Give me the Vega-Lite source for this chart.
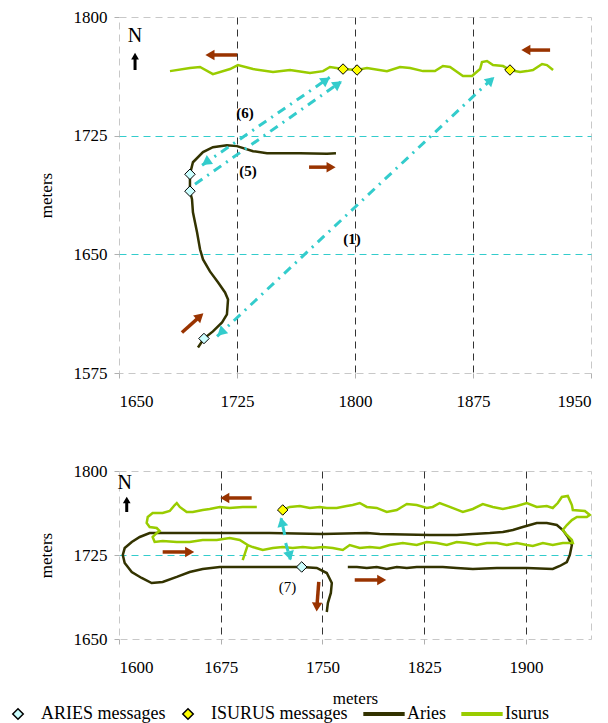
{
"$schema": "https://vega.github.io/schema/vega-lite/v6.json",
"background": "white",
"padding": {"left": 9, "top": 7, "right": 5, "bottom": 0},
"spacing": 51,
"config": {
  "view": {"stroke": "#c8c8c8", "strokeDash": [7, 5]},
  "font": "Liberation Serif",
  "style": {"guide-label": {"font": "Liberation Serif", "fontSize": 17, "fill": "black"}, "guide-title": {"font": "Liberation Serif", "fontSize": 17, "fontWeight": "normal", "fill": "black"}},
  "axis": {"labelFont": "Liberation Serif", "labelFontSize": 17, "labelColor": "black", "titleFont": "Liberation Serif", "titleFontSize": 17, "titleFontWeight": "normal", "titleColor": "black", "domain": false, "tickColor": "#b0b0b0", "tickSize": 5, "gridDash": [7, 5], "gridWidth": 1},
  "legend": {"labelFont": "Liberation Serif", "labelFontSize": 18, "labelColor": "black", "labelLimit": 300, "symbolSize": 110}
},
"datasets": {
  "tracks": [
    {"panel":"top","vehicle":"Aries","order":1,"x":1700.2,"y":1591.1},
    {"panel":"top","vehicle":"Aries","order":2,"x":1704.0,"y":1596.8},
    {"panel":"top","vehicle":"Aries","order":3,"x":1709.7,"y":1601.3},
    {"panel":"top","vehicle":"Aries","order":4,"x":1715.5,"y":1607.0},
    {"panel":"top","vehicle":"Aries","order":5,"x":1718.6,"y":1612.0},
    {"panel":"top","vehicle":"Aries","order":6,"x":1719.3,"y":1621.5},
    {"panel":"top","vehicle":"Aries","order":7,"x":1717.4,"y":1625.9},
    {"panel":"top","vehicle":"Aries","order":8,"x":1712.9,"y":1632.3},
    {"panel":"top","vehicle":"Aries","order":9,"x":1707.8,"y":1639.2},
    {"panel":"top","vehicle":"Aries","order":10,"x":1703.4,"y":1646.8},
    {"panel":"top","vehicle":"Aries","order":11,"x":1701.5,"y":1653.2},
    {"panel":"top","vehicle":"Aries","order":12,"x":1699.6,"y":1663.9},
    {"panel":"top","vehicle":"Aries","order":13,"x":1697.0,"y":1676.6},
    {"panel":"top","vehicle":"Aries","order":14,"x":1696.4,"y":1684.8},
    {"panel":"top","vehicle":"Aries","order":15,"x":1695.1,"y":1689.9},
    {"panel":"top","vehicle":"Aries","order":16,"x":1695.1,"y":1700.6},
    {"panel":"top","vehicle":"Aries","order":17,"x":1697.0,"y":1708.2},
    {"panel":"top","vehicle":"Aries","order":18,"x":1703.4,"y":1714.6},
    {"panel":"top","vehicle":"Aries","order":19,"x":1709.7,"y":1717.7},
    {"panel":"top","vehicle":"Aries","order":20,"x":1718.6,"y":1719.0},
    {"panel":"top","vehicle":"Aries","order":21,"x":1725.0,"y":1718.4},
    {"panel":"top","vehicle":"Aries","order":22,"x":1735.2,"y":1715.2},
    {"panel":"top","vehicle":"Aries","order":23,"x":1744.1,"y":1713.9},
    {"panel":"top","vehicle":"Aries","order":24,"x":1765.0,"y":1713.9},
    {"panel":"top","vehicle":"Aries","order":25,"x":1782.2,"y":1713.6},
    {"panel":"top","vehicle":"Aries","order":26,"x":1787.9,"y":1713.9},
    {"panel":"top","vehicle":"Isurus","order":1,"x":1682.4,"y":1765.8},
    {"panel":"top","vehicle":"Isurus","order":2,"x":1695.1,"y":1767.7},
    {"panel":"top","vehicle":"Isurus","order":3,"x":1701.5,"y":1768.4},
    {"panel":"top","vehicle":"Isurus","order":4,"x":1709.7,"y":1763.9},
    {"panel":"top","vehicle":"Isurus","order":5,"x":1720.6,"y":1767.1},
    {"panel":"top","vehicle":"Isurus","order":6,"x":1725.6,"y":1769.6},
    {"panel":"top","vehicle":"Isurus","order":7,"x":1735.2,"y":1767.1},
    {"panel":"top","vehicle":"Isurus","order":8,"x":1747.9,"y":1765.2},
    {"panel":"top","vehicle":"Isurus","order":9,"x":1758.7,"y":1766.5},
    {"panel":"top","vehicle":"Isurus","order":10,"x":1771.4,"y":1764.6},
    {"panel":"top","vehicle":"Isurus","order":11,"x":1779.7,"y":1765.8},
    {"panel":"top","vehicle":"Isurus","order":12,"x":1784.1,"y":1768.4},
    {"panel":"top","vehicle":"Isurus","order":13,"x":1792.4,"y":1767.1},
    {"panel":"top","vehicle":"Isurus","order":14,"x":1801.3,"y":1766.5},
    {"panel":"top","vehicle":"Isurus","order":15,"x":1807.6,"y":1767.7},
    {"panel":"top","vehicle":"Isurus","order":16,"x":1820.3,"y":1765.8},
    {"panel":"top","vehicle":"Isurus","order":17,"x":1828.6,"y":1768.4},
    {"panel":"top","vehicle":"Isurus","order":18,"x":1835.0,"y":1767.7},
    {"panel":"top","vehicle":"Isurus","order":19,"x":1843.2,"y":1765.8},
    {"panel":"top","vehicle":"Isurus","order":20,"x":1850.8,"y":1765.8},
    {"panel":"top","vehicle":"Isurus","order":21,"x":1855.9,"y":1769.0},
    {"panel":"top","vehicle":"Isurus","order":22,"x":1860.4,"y":1768.4},
    {"panel":"top","vehicle":"Isurus","order":23,"x":1868.6,"y":1762.7},
    {"panel":"top","vehicle":"Isurus","order":24,"x":1874.4,"y":1762.7},
    {"panel":"top","vehicle":"Isurus","order":25,"x":1879.5,"y":1767.1},
    {"panel":"top","vehicle":"Isurus","order":26,"x":1880.7,"y":1771.5},
    {"panel":"top","vehicle":"Isurus","order":27,"x":1883.9,"y":1772.2},
    {"panel":"top","vehicle":"Isurus","order":28,"x":1887.7,"y":1769.6},
    {"panel":"top","vehicle":"Isurus","order":29,"x":1894.1,"y":1769.0},
    {"panel":"top","vehicle":"Isurus","order":30,"x":1898.5,"y":1766.5},
    {"panel":"top","vehicle":"Isurus","order":31,"x":1904.9,"y":1765.2},
    {"panel":"top","vehicle":"Isurus","order":32,"x":1909.3,"y":1765.8},
    {"panel":"top","vehicle":"Isurus","order":33,"x":1913.1,"y":1766.5},
    {"panel":"top","vehicle":"Isurus","order":34,"x":1918.9,"y":1770.3},
    {"panel":"top","vehicle":"Isurus","order":35,"x":1922.0,"y":1769.6},
    {"panel":"top","vehicle":"Isurus","order":36,"x":1925.9,"y":1766.5},
    {"panel":"bottom","vehicle":"Aries","order":1,"x":1768.7,"y":1714.3},
    {"panel":"bottom","vehicle":"Aries","order":2,"x":1775.4,"y":1714.3},
    {"panel":"bottom","vehicle":"Aries","order":3,"x":1782.7,"y":1713.4},
    {"panel":"bottom","vehicle":"Aries","order":4,"x":1790.0,"y":1714.3},
    {"panel":"bottom","vehicle":"Aries","order":5,"x":1797.4,"y":1712.5},
    {"panel":"bottom","vehicle":"Aries","order":6,"x":1804.8,"y":1714.3},
    {"panel":"bottom","vehicle":"Aries","order":7,"x":1812.2,"y":1713.4},
    {"panel":"bottom","vehicle":"Aries","order":8,"x":1819.5,"y":1714.3},
    {"panel":"bottom","vehicle":"Aries","order":9,"x":1829.1,"y":1714.3},
    {"panel":"bottom","vehicle":"Aries","order":10,"x":1838.7,"y":1714.3},
    {"panel":"bottom","vehicle":"Aries","order":11,"x":1849.0,"y":1713.4},
    {"panel":"bottom","vehicle":"Aries","order":12,"x":1860.9,"y":1712.5},
    {"panel":"bottom","vehicle":"Aries","order":13,"x":1878.6,"y":1713.4},
    {"panel":"bottom","vehicle":"Aries","order":14,"x":1900.7,"y":1713.4},
    {"panel":"bottom","vehicle":"Aries","order":15,"x":1919.8,"y":1712.5},
    {"panel":"bottom","vehicle":"Aries","order":16,"x":1925.0,"y":1715.2},
    {"panel":"bottom","vehicle":"Aries","order":17,"x":1930.2,"y":1718.7},
    {"panel":"bottom","vehicle":"Aries","order":18,"x":1932.4,"y":1725.0},
    {"panel":"bottom","vehicle":"Aries","order":19,"x":1933.9,"y":1733.9},
    {"panel":"bottom","vehicle":"Aries","order":20,"x":1930.9,"y":1741.1},
    {"panel":"bottom","vehicle":"Aries","order":21,"x":1927.2,"y":1747.3},
    {"panel":"bottom","vehicle":"Aries","order":22,"x":1922.8,"y":1751.8},
    {"panel":"bottom","vehicle":"Aries","order":23,"x":1915.4,"y":1753.6},
    {"panel":"bottom","vehicle":"Aries","order":24,"x":1908.0,"y":1753.6},
    {"panel":"bottom","vehicle":"Aries","order":25,"x":1902.9,"y":1751.8},
    {"panel":"bottom","vehicle":"Aries","order":26,"x":1897.7,"y":1750.0},
    {"panel":"bottom","vehicle":"Aries","order":27,"x":1890.4,"y":1747.3},
    {"panel":"bottom","vehicle":"Aries","order":28,"x":1883.0,"y":1745.5},
    {"panel":"bottom","vehicle":"Aries","order":29,"x":1873.4,"y":1744.6},
    {"panel":"bottom","vehicle":"Aries","order":30,"x":1860.9,"y":1743.8},
    {"panel":"bottom","vehicle":"Aries","order":31,"x":1849.0,"y":1742.9},
    {"panel":"bottom","vehicle":"Aries","order":32,"x":1829.1,"y":1742.9},
    {"panel":"bottom","vehicle":"Aries","order":33,"x":1792.3,"y":1743.8},
    {"panel":"bottom","vehicle":"Aries","order":34,"x":1782.7,"y":1744.6},
    {"panel":"bottom","vehicle":"Aries","order":35,"x":1750.2,"y":1743.8},
    {"panel":"bottom","vehicle":"Aries","order":36,"x":1711.1,"y":1744.6},
    {"panel":"bottom","vehicle":"Aries","order":37,"x":1674.3,"y":1744.6},
    {"panel":"bottom","vehicle":"Aries","order":38,"x":1642.6,"y":1744.6},
    {"panel":"bottom","vehicle":"Aries","order":39,"x":1628.5,"y":1744.6},
    {"panel":"bottom","vehicle":"Aries","order":40,"x":1622.6,"y":1744.6},
    {"panel":"bottom","vehicle":"Aries","order":41,"x":1615.3,"y":1741.1},
    {"panel":"bottom","vehicle":"Aries","order":42,"x":1609.4,"y":1736.6},
    {"panel":"bottom","vehicle":"Aries","order":43,"x":1604.2,"y":1731.2},
    {"panel":"bottom","vehicle":"Aries","order":44,"x":1602.8,"y":1725.0},
    {"panel":"bottom","vehicle":"Aries","order":45,"x":1604.2,"y":1717.9},
    {"panel":"bottom","vehicle":"Aries","order":46,"x":1609.4,"y":1709.8},
    {"panel":"bottom","vehicle":"Aries","order":47,"x":1616.7,"y":1704.5},
    {"panel":"bottom","vehicle":"Aries","order":48,"x":1624.1,"y":1700.0},
    {"panel":"bottom","vehicle":"Aries","order":49,"x":1632.2,"y":1700.9},
    {"panel":"bottom","vehicle":"Aries","order":50,"x":1642.6,"y":1705.4},
    {"panel":"bottom","vehicle":"Aries","order":51,"x":1652.1,"y":1709.8},
    {"panel":"bottom","vehicle":"Aries","order":52,"x":1661.7,"y":1712.5},
    {"panel":"bottom","vehicle":"Aries","order":53,"x":1674.3,"y":1714.3},
    {"panel":"bottom","vehicle":"Aries","order":54,"x":1691.2,"y":1714.3},
    {"panel":"bottom","vehicle":"Aries","order":55,"x":1711.1,"y":1714.3},
    {"panel":"bottom","vehicle":"Aries","order":56,"x":1725.9,"y":1714.3},
    {"panel":"bottom","vehicle":"Aries","order":57,"x":1734.7,"y":1714.3},
    {"panel":"bottom","vehicle":"Aries","order":58,"x":1745.8,"y":1713.4},
    {"panel":"bottom","vehicle":"Aries","order":59,"x":1753.2,"y":1708.9},
    {"panel":"bottom","vehicle":"Aries","order":60,"x":1756.9,"y":1700.0},
    {"panel":"bottom","vehicle":"Aries","order":61,"x":1756.2,"y":1691.1},
    {"panel":"bottom","vehicle":"Aries","order":62,"x":1754.0,"y":1682.1},
    {"panel":"bottom","vehicle":"Aries","order":63,"x":1753.2,"y":1674.1},
    {"panel":"bottom","vehicle":"Isurus","order":1,"x":1701.6,"y":1767.9},
    {"panel":"bottom","vehicle":"Isurus","order":2,"x":1691.2,"y":1767.9},
    {"panel":"bottom","vehicle":"Isurus","order":3,"x":1681.6,"y":1767.0},
    {"panel":"bottom","vehicle":"Isurus","order":4,"x":1674.3,"y":1767.9},
    {"panel":"bottom","vehicle":"Isurus","order":5,"x":1666.9,"y":1766.1},
    {"panel":"bottom","vehicle":"Isurus","order":6,"x":1661.7,"y":1765.2},
    {"panel":"bottom","vehicle":"Isurus","order":7,"x":1654.4,"y":1763.4},
    {"panel":"bottom","vehicle":"Isurus","order":8,"x":1649.9,"y":1763.4},
    {"panel":"bottom","vehicle":"Isurus","order":9,"x":1644.8,"y":1767.9},
    {"panel":"bottom","vehicle":"Isurus","order":10,"x":1642.6,"y":1771.4},
    {"panel":"bottom","vehicle":"Isurus","order":11,"x":1641.1,"y":1769.6},
    {"panel":"bottom","vehicle":"Isurus","order":12,"x":1637.4,"y":1764.3},
    {"panel":"bottom","vehicle":"Isurus","order":13,"x":1632.2,"y":1762.5},
    {"panel":"bottom","vehicle":"Isurus","order":14,"x":1624.8,"y":1762.5},
    {"panel":"bottom","vehicle":"Isurus","order":15,"x":1621.2,"y":1758.9},
    {"panel":"bottom","vehicle":"Isurus","order":16,"x":1620.4,"y":1753.6},
    {"panel":"bottom","vehicle":"Isurus","order":17,"x":1622.6,"y":1750.0},
    {"panel":"bottom","vehicle":"Isurus","order":18,"x":1627.8,"y":1749.1},
    {"panel":"bottom","vehicle":"Isurus","order":19,"x":1630.0,"y":1746.4},
    {"panel":"bottom","vehicle":"Isurus","order":20,"x":1627.8,"y":1744.6},
    {"panel":"bottom","vehicle":"Isurus","order":21,"x":1624.8,"y":1741.1},
    {"panel":"bottom","vehicle":"Isurus","order":22,"x":1626.3,"y":1736.6},
    {"panel":"bottom","vehicle":"Isurus","order":23,"x":1632.2,"y":1737.5},
    {"panel":"bottom","vehicle":"Isurus","order":24,"x":1642.6,"y":1736.6},
    {"panel":"bottom","vehicle":"Isurus","order":25,"x":1652.1,"y":1736.6},
    {"panel":"bottom","vehicle":"Isurus","order":26,"x":1661.7,"y":1738.4},
    {"panel":"bottom","vehicle":"Isurus","order":27,"x":1672.1,"y":1738.4},
    {"panel":"bottom","vehicle":"Isurus","order":28,"x":1681.6,"y":1740.2},
    {"panel":"bottom","vehicle":"Isurus","order":29,"x":1689.0,"y":1738.4},
    {"panel":"bottom","vehicle":"Isurus","order":30,"x":1694.9,"y":1733.9},
    {"panel":"bottom","vehicle":"Isurus","order":31,"x":1691.2,"y":1720.5},
    {"panel":"bottom","vehicle":"Isurus","order":32,"x":1694.9,"y":1733.9},
    {"panel":"bottom","vehicle":"Isurus","order":33,"x":1698.6,"y":1732.1},
    {"panel":"bottom","vehicle":"Isurus","order":34,"x":1706.0,"y":1729.5},
    {"panel":"bottom","vehicle":"Isurus","order":35,"x":1713.4,"y":1731.2},
    {"panel":"bottom","vehicle":"Isurus","order":36,"x":1720.7,"y":1732.1},
    {"panel":"bottom","vehicle":"Isurus","order":37,"x":1728.1,"y":1731.2},
    {"panel":"bottom","vehicle":"Isurus","order":38,"x":1735.5,"y":1732.1},
    {"panel":"bottom","vehicle":"Isurus","order":39,"x":1742.9,"y":1731.2},
    {"panel":"bottom","vehicle":"Isurus","order":40,"x":1750.2,"y":1732.1},
    {"panel":"bottom","vehicle":"Isurus","order":41,"x":1757.6,"y":1731.2},
    {"panel":"bottom","vehicle":"Isurus","order":42,"x":1765.0,"y":1729.5},
    {"panel":"bottom","vehicle":"Isurus","order":43,"x":1770.1,"y":1733.9},
    {"panel":"bottom","vehicle":"Isurus","order":44,"x":1777.5,"y":1731.2},
    {"panel":"bottom","vehicle":"Isurus","order":45,"x":1784.9,"y":1732.1},
    {"panel":"bottom","vehicle":"Isurus","order":46,"x":1792.3,"y":1731.2},
    {"panel":"bottom","vehicle":"Isurus","order":47,"x":1799.6,"y":1733.9},
    {"panel":"bottom","vehicle":"Isurus","order":48,"x":1809.2,"y":1735.7},
    {"panel":"bottom","vehicle":"Isurus","order":49,"x":1819.5,"y":1733.9},
    {"panel":"bottom","vehicle":"Isurus","order":50,"x":1826.9,"y":1736.6},
    {"panel":"bottom","vehicle":"Isurus","order":51,"x":1834.3,"y":1735.7},
    {"panel":"bottom","vehicle":"Isurus","order":52,"x":1841.7,"y":1733.9},
    {"panel":"bottom","vehicle":"Isurus","order":53,"x":1849.0,"y":1736.6},
    {"panel":"bottom","vehicle":"Isurus","order":54,"x":1856.4,"y":1735.7},
    {"panel":"bottom","vehicle":"Isurus","order":55,"x":1863.8,"y":1733.9},
    {"panel":"bottom","vehicle":"Isurus","order":56,"x":1871.2,"y":1735.7},
    {"panel":"bottom","vehicle":"Isurus","order":57,"x":1878.6,"y":1735.7},
    {"panel":"bottom","vehicle":"Isurus","order":58,"x":1885.9,"y":1733.9},
    {"panel":"bottom","vehicle":"Isurus","order":59,"x":1893.3,"y":1735.7},
    {"panel":"bottom","vehicle":"Isurus","order":60,"x":1900.7,"y":1733.9},
    {"panel":"bottom","vehicle":"Isurus","order":61,"x":1905.1,"y":1733.0},
    {"panel":"bottom","vehicle":"Isurus","order":62,"x":1912.5,"y":1735.7},
    {"panel":"bottom","vehicle":"Isurus","order":63,"x":1919.8,"y":1733.9},
    {"panel":"bottom","vehicle":"Isurus","order":64,"x":1927.2,"y":1735.7},
    {"panel":"bottom","vehicle":"Isurus","order":65,"x":1934.6,"y":1735.7},
    {"panel":"bottom","vehicle":"Isurus","order":66,"x":1933.9,"y":1738.4},
    {"panel":"bottom","vehicle":"Isurus","order":67,"x":1930.2,"y":1742.9},
    {"panel":"bottom","vehicle":"Isurus","order":68,"x":1927.2,"y":1747.3},
    {"panel":"bottom","vehicle":"Isurus","order":69,"x":1930.2,"y":1751.8},
    {"panel":"bottom","vehicle":"Isurus","order":70,"x":1933.9,"y":1756.2},
    {"panel":"bottom","vehicle":"Isurus","order":71,"x":1937.6,"y":1758.9},
    {"panel":"bottom","vehicle":"Isurus","order":72,"x":1944.9,"y":1758.9},
    {"panel":"bottom","vehicle":"Isurus","order":73,"x":1947.1,"y":1760.7},
    {"panel":"bottom","vehicle":"Isurus","order":74,"x":1943.5,"y":1764.3},
    {"panel":"bottom","vehicle":"Isurus","order":75,"x":1934.6,"y":1765.2},
    {"panel":"bottom","vehicle":"Isurus","order":76,"x":1933.9,"y":1769.6},
    {"panel":"bottom","vehicle":"Isurus","order":77,"x":1930.9,"y":1777.7},
    {"panel":"bottom","vehicle":"Isurus","order":78,"x":1926.5,"y":1776.8},
    {"panel":"bottom","vehicle":"Isurus","order":79,"x":1923.5,"y":1771.4},
    {"panel":"bottom","vehicle":"Isurus","order":80,"x":1919.8,"y":1767.0},
    {"panel":"bottom","vehicle":"Isurus","order":81,"x":1915.4,"y":1768.7},
    {"panel":"bottom","vehicle":"Isurus","order":82,"x":1908.0,"y":1767.9},
    {"panel":"bottom","vehicle":"Isurus","order":83,"x":1900.7,"y":1771.4},
    {"panel":"bottom","vehicle":"Isurus","order":84,"x":1893.3,"y":1768.7},
    {"panel":"bottom","vehicle":"Isurus","order":85,"x":1883.0,"y":1766.1},
    {"panel":"bottom","vehicle":"Isurus","order":86,"x":1875.6,"y":1767.9},
    {"panel":"bottom","vehicle":"Isurus","order":87,"x":1868.2,"y":1770.5},
    {"panel":"bottom","vehicle":"Isurus","order":88,"x":1860.9,"y":1766.1},
    {"panel":"bottom","vehicle":"Isurus","order":89,"x":1853.5,"y":1763.4},
    {"panel":"bottom","vehicle":"Isurus","order":90,"x":1843.9,"y":1767.9},
    {"panel":"bottom","vehicle":"Isurus","order":91,"x":1836.5,"y":1771.4},
    {"panel":"bottom","vehicle":"Isurus","order":92,"x":1831.3,"y":1767.9},
    {"panel":"bottom","vehicle":"Isurus","order":93,"x":1826.9,"y":1767.0},
    {"panel":"bottom","vehicle":"Isurus","order":94,"x":1819.5,"y":1769.6},
    {"panel":"bottom","vehicle":"Isurus","order":95,"x":1812.2,"y":1770.5},
    {"panel":"bottom","vehicle":"Isurus","order":96,"x":1804.8,"y":1765.2},
    {"panel":"bottom","vehicle":"Isurus","order":97,"x":1797.4,"y":1763.4},
    {"panel":"bottom","vehicle":"Isurus","order":98,"x":1790.0,"y":1767.0},
    {"panel":"bottom","vehicle":"Isurus","order":99,"x":1782.7,"y":1767.9},
    {"panel":"bottom","vehicle":"Isurus","order":100,"x":1777.5,"y":1771.4},
    {"panel":"bottom","vehicle":"Isurus","order":101,"x":1772.3,"y":1769.6},
    {"panel":"bottom","vehicle":"Isurus","order":102,"x":1767.9,"y":1768.7},
    {"panel":"bottom","vehicle":"Isurus","order":103,"x":1760.5,"y":1767.0},
    {"panel":"bottom","vehicle":"Isurus","order":104,"x":1753.2,"y":1767.0},
    {"panel":"bottom","vehicle":"Isurus","order":105,"x":1748.1,"y":1767.9},
    {"panel":"bottom","vehicle":"Isurus","order":106,"x":1740.7,"y":1767.0},
    {"panel":"bottom","vehicle":"Isurus","order":107,"x":1733.3,"y":1768.7},
    {"panel":"bottom","vehicle":"Isurus","order":108,"x":1725.9,"y":1767.9},
    {"panel":"bottom","vehicle":"Isurus","order":109,"x":1720.7,"y":1765.2}
  ],
  "messages": [
    {"panel":"top","series":"ARIES messages","x":1704.0,"y":1596.8},
    {"panel":"top","series":"ARIES messages","x":1695.1,"y":1689.9},
    {"panel":"top","series":"ARIES messages","x":1695.1,"y":1700.6},
    {"panel":"top","series":"ISURUS messages","x":1792.4,"y":1767.1},
    {"panel":"top","series":"ISURUS messages","x":1801.3,"y":1766.5},
    {"panel":"top","series":"ISURUS messages","x":1898.5,"y":1766.5},
    {"panel":"bottom","series":"ARIES messages","x":1734.7,"y":1714.3},
    {"panel":"bottom","series":"ISURUS messages","x":1720.7,"y":1765.2}
  ],
  "links": [
    {"panel":"top","link":"1","order":1,"x":1712.3,"y":1598.1},
    {"panel":"top","link":"1","order":2,"x":1889.0,"y":1762.7},
    {"panel":"top","link":"6","order":1,"x":1702.8,"y":1706.3},
    {"panel":"top","link":"6","order":2,"x":1784.1,"y":1762.0},
    {"panel":"top","link":"5","order":1,"x":1698.3,"y":1694.3},
    {"panel":"top","link":"5","order":2,"x":1791.7,"y":1759.5},
    {"panel":"bottom","link":"7a","order":1,"x":1722.2,"y":1742.9},
    {"panel":"bottom","link":"7a","order":2,"x":1719.3,"y":1758.9},
    {"panel":"bottom","link":"7b","order":1,"x":1722.9,"y":1735.7},
    {"panel":"bottom","link":"7b","order":2,"x":1726.6,"y":1719.6}
  ],
  "motion": [
    {"panel":"top","arrow":"m1","order":1,"x":1725.0,"y":1776.0},
    {"panel":"top","arrow":"m1","order":2,"x":1707.8,"y":1776.0},
    {"panel":"top","arrow":"m2","order":1,"x":1924.0,"y":1779.1},
    {"panel":"top","arrow":"m2","order":2,"x":1908.6,"y":1779.1},
    {"panel":"top","arrow":"m3","order":1,"x":1770.8,"y":1705.1},
    {"panel":"top","arrow":"m3","order":2,"x":1784.8,"y":1705.1},
    {"panel":"top","arrow":"m4","order":1,"x":1690.0,"y":1600.6},
    {"panel":"top","arrow":"m4","order":2,"x":1701.5,"y":1610.8},
    {"panel":"bottom","arrow":"m5","order":1,"x":1697.8,"y":1775.9},
    {"panel":"bottom","arrow":"m5","order":2,"x":1678.0,"y":1775.9},
    {"panel":"bottom","arrow":"m6","order":1,"x":1632.2,"y":1727.7},
    {"panel":"bottom","arrow":"m6","order":2,"x":1652.1,"y":1727.7},
    {"panel":"bottom","arrow":"m7","order":1,"x":1773.8,"y":1702.7},
    {"panel":"bottom","arrow":"m7","order":2,"x":1793.7,"y":1702.7},
    {"panel":"bottom","arrow":"m8","order":1,"x":1747.3,"y":1700.9},
    {"panel":"bottom","arrow":"m8","order":2,"x":1745.9,"y":1678.6}
  ],
  "north": [
    {"panel":"top","order":1,"x":1660.2,"y":1766.5},
    {"panel":"top","order":2,"x":1660.2,"y":1775.3},
    {"panel":"bottom","order":1,"x":1605.7,"y":1763.4},
    {"panel":"bottom","order":2,"x":1605.7,"y":1774.1}
  ],
  "heads": [
    {"panel":"top","kind":"link","x":1714.8,"y":1600.6,"heading":227},
    {"panel":"top","kind":"link","x":1886.4,"y":1760.1,"heading":47},
    {"panel":"top","kind":"link","x":1705.3,"y":1708.2,"heading":235},
    {"panel":"top","kind":"link","x":1781.6,"y":1760.1,"heading":55},
    {"panel":"top","kind":"link","x":1789.2,"y":1757.6,"heading":55},
    {"panel":"bottom","kind":"link","x":1720.0,"y":1754.5,"heading":347},
    {"panel":"bottom","kind":"link","x":1725.9,"y":1724.1,"heading":165},
    {"panel":"top","kind":"motion","x":1707.8,"y":1776.0,"heading":270},
    {"panel":"top","kind":"motion","x":1908.6,"y":1779.1,"heading":270},
    {"panel":"top","kind":"motion","x":1784.8,"y":1705.1,"heading":90},
    {"panel":"top","kind":"motion","x":1701.5,"y":1610.8,"heading":48},
    {"panel":"bottom","kind":"motion","x":1678.0,"y":1775.9,"heading":270},
    {"panel":"bottom","kind":"motion","x":1652.1,"y":1727.7,"heading":90},
    {"panel":"bottom","kind":"motion","x":1793.7,"y":1702.7,"heading":90},
    {"panel":"bottom","kind":"motion","x":1745.9,"y":1678.6,"heading":183},
    {"panel":"top","kind":"north","x":1660.2,"y":1775.3,"heading":0},
    {"panel":"bottom","kind":"north","x":1605.7,"y":1774.1,"heading":0}
  ],
  "labels": [
    {"panel":"top","kind":"N","text":"N","x":1660.2,"y":1788.0},
    {"panel":"bottom","kind":"N","text":"N","x":1604.3,"y":1789.3},
    {"panel":"top","kind":"link","text":"(6)","x":1730.1,"y":1739.2},
    {"panel":"top","kind":"link","text":"(5)","x":1732.0,"y":1702.5},
    {"panel":"top","kind":"link","text":"(1)","x":1798.1,"y":1659.5},
    {"panel":"bottom","kind":"link7","text":"(7)","x":1724.2,"y":1696.4}
  ]
},
"vconcat": [
  {
    "width": 472, "height": 356,
    "encoding": {
      "x": {"field": "x", "type": "quantitative", "scale": {"domain": [1650, 1950], "nice": false, "zero": false},
        "axis": {"values": [1650, 1725, 1800, 1875, 1950], "format": "d", "title": null, "grid": true, "labelPadding": 15,
          "labelFont": "Liberation Serif", "labelFontSize": 17,
          "gridColor": {"condition": {"test": "datum.value > 1650 && datum.value < 1950", "value": "#333333"}, "value": "transparent"}}},
      "y": {"field": "y", "type": "quantitative", "scale": {"domain": [1575, 1800], "nice": false, "zero": false},
        "axis": {"values": [1575, 1650, 1725, 1800], "format": "d", "title": "meters", "grid": true, "labelPadding": 7, "titlePadding": 18,
          "labelFont": "Liberation Serif", "labelFontSize": 17, "titleFont": "Liberation Serif", "titleFontSize": 17, "titleFontWeight": "normal",
          "gridColor": {"condition": {"test": "datum.value == 1650 || datum.value == 1725", "value": "#33cccc"}, "value": "transparent"}}}
    },
    "layer": [
      {"data": {"name": "tracks"}, "transform": [{"filter": "datum.panel === 'top' && datum.vehicle === 'Isurus'"}],
       "mark": {"type": "line", "color": "#99cc00", "strokeWidth": 2.5}, "encoding": {"order": {"field": "order", "type": "quantitative"}}},
      {"data": {"name": "tracks"}, "transform": [{"filter": "datum.panel === 'top' && datum.vehicle === 'Aries'"}],
       "mark": {"type": "line", "color": "#333300", "strokeWidth": 2.5}, "encoding": {"order": {"field": "order", "type": "quantitative"}}},
      {"data": {"name": "links"}, "transform": [{"filter": "datum.panel === 'top'"}],
       "mark": {"type": "line", "color": "#33cccc", "strokeWidth": 3, "strokeDash": [9, 6, 2, 6]},
       "encoding": {"detail": {"field": "link"}, "order": {"field": "order", "type": "quantitative"}}},
      {"data": {"name": "motion"}, "transform": [{"filter": "datum.panel === 'top'"}],
       "mark": {"type": "line", "color": "#993300", "strokeWidth": 3.5},
       "encoding": {"detail": {"field": "arrow"}, "order": {"field": "order", "type": "quantitative"}}},
      {"data": {"name": "north"}, "transform": [{"filter": "datum.panel === 'top'"}],
       "mark": {"type": "line", "color": "black", "strokeWidth": 3},
       "encoding": {"order": {"field": "order", "type": "quantitative"}}},
      {"data": {"name": "heads"}, "transform": [{"filter": "datum.panel === 'top' && datum.kind === 'link'"}],
       "mark": {"type": "point", "shape": "triangle-up", "filled": true, "color": "#33cccc", "size": 120, "opacity": 1},
       "encoding": {"angle": {"field": "heading", "type": "quantitative", "scale": null}}},
      {"data": {"name": "heads"}, "transform": [{"filter": "datum.panel === 'top' && datum.kind === 'motion'"}],
       "mark": {"type": "point", "shape": "triangle-up", "filled": true, "color": "#993300", "size": 110, "opacity": 1},
       "encoding": {"angle": {"field": "heading", "type": "quantitative", "scale": null}}},
      {"data": {"name": "heads"}, "transform": [{"filter": "datum.panel === 'top' && datum.kind === 'north'"}],
       "mark": {"type": "point", "shape": "triangle-up", "filled": true, "color": "black", "size": 60, "opacity": 1},
       "encoding": {"angle": {"field": "heading", "type": "quantitative", "scale": null}}},
      {"data": {"name": "messages"}, "transform": [{"filter": "datum.panel === 'top' && datum.series === 'ARIES messages'"}],
       "mark": {"type": "point", "shape": "diamond", "filled": true, "fill": "#ccffff", "stroke": "black", "strokeWidth": 1, "size": 110, "opacity": 1}},
      {"data": {"name": "messages"}, "transform": [{"filter": "datum.panel === 'top' && datum.series === 'ISURUS messages'"}],
       "mark": {"type": "point", "shape": "diamond", "filled": true, "fill": "#ffff00", "stroke": "black", "strokeWidth": 1, "size": 110, "opacity": 1}},
      {"data": {"name": "labels"}, "transform": [{"filter": "datum.panel === 'top' && datum.kind === 'N'"}],
       "mark": {"type": "text", "font": "Liberation Serif", "fontSize": 20, "color": "black", "align": "center", "baseline": "middle"},
       "encoding": {"text": {"field": "text"}}},
      {"data": {"name": "labels"}, "transform": [{"filter": "datum.panel === 'top' && datum.kind === 'link'"}],
       "mark": {"type": "text", "font": "Liberation Serif", "fontSize": 15, "fontWeight": "bold", "color": "black", "align": "center", "baseline": "middle"},
       "encoding": {"text": {"field": "text"}}}
    ]
  },
  {
    "width": 472, "height": 168,
    "encoding": {
      "x": {"field": "x", "type": "quantitative", "scale": {"domain": [1600, 1948], "nice": false, "zero": false},
        "axis": {"values": [1600, 1675, 1750, 1825, 1900], "format": "d", "title": "meters", "grid": true, "labelPadding": 15, "titlePadding": 15,
          "labelFont": "Liberation Serif", "labelFontSize": 17, "titleFont": "Liberation Serif", "titleFontSize": 17, "titleFontWeight": "normal",
          "gridColor": {"condition": {"test": "datum.value > 1600", "value": "#333333"}, "value": "transparent"}}},
      "y": {"field": "y", "type": "quantitative", "scale": {"domain": [1650, 1800], "nice": false, "zero": false},
        "axis": {"values": [1650, 1725, 1800], "format": "d", "title": "meters", "grid": true, "labelPadding": 7, "titlePadding": 18,
          "labelFont": "Liberation Serif", "labelFontSize": 17, "titleFont": "Liberation Serif", "titleFontSize": 17, "titleFontWeight": "normal",
          "gridColor": {"condition": {"test": "datum.value == 1725", "value": "#33cccc"}, "value": "transparent"}}}
    },
    "layer": [
      {"data": {"name": "tracks"}, "transform": [{"filter": "datum.panel === 'bottom' && datum.vehicle === 'Aries'"}],
       "mark": {"type": "line", "color": "#333300", "strokeWidth": 2.5}, "encoding": {"order": {"field": "order", "type": "quantitative"}}},
      {"data": {"name": "tracks"}, "transform": [{"filter": "datum.panel === 'bottom' && datum.vehicle === 'Isurus'"}],
       "mark": {"type": "line", "color": "#99cc00", "strokeWidth": 2.5}, "encoding": {"order": {"field": "order", "type": "quantitative"}}},
      {"data": {"name": "links"}, "transform": [{"filter": "datum.panel === 'bottom'"}],
       "mark": {"type": "line", "color": "#33cccc", "strokeWidth": 3, "strokeDash": [9, 6, 2, 6]},
       "encoding": {"detail": {"field": "link"}, "order": {"field": "order", "type": "quantitative"}}},
      {"data": {"name": "motion"}, "transform": [{"filter": "datum.panel === 'bottom'"}],
       "mark": {"type": "line", "color": "#993300", "strokeWidth": 3.5},
       "encoding": {"detail": {"field": "arrow"}, "order": {"field": "order", "type": "quantitative"}}},
      {"data": {"name": "north"}, "transform": [{"filter": "datum.panel === 'bottom'"}],
       "mark": {"type": "line", "color": "black", "strokeWidth": 3},
       "encoding": {"order": {"field": "order", "type": "quantitative"}}},
      {"data": {"name": "heads"}, "transform": [{"filter": "datum.panel === 'bottom' && datum.kind === 'link'"}],
       "mark": {"type": "point", "shape": "triangle-up", "filled": true, "color": "#33cccc", "size": 120, "opacity": 1},
       "encoding": {"angle": {"field": "heading", "type": "quantitative", "scale": null}}},
      {"data": {"name": "heads"}, "transform": [{"filter": "datum.panel === 'bottom' && datum.kind === 'motion'"}],
       "mark": {"type": "point", "shape": "triangle-up", "filled": true, "color": "#993300", "size": 110, "opacity": 1},
       "encoding": {"angle": {"field": "heading", "type": "quantitative", "scale": null}}},
      {"data": {"name": "heads"}, "transform": [{"filter": "datum.panel === 'bottom' && datum.kind === 'north'"}],
       "mark": {"type": "point", "shape": "triangle-up", "filled": true, "color": "black", "size": 60, "opacity": 1},
       "encoding": {"angle": {"field": "heading", "type": "quantitative", "scale": null}}},
      {"data": {"name": "messages"}, "transform": [{"filter": "datum.panel === 'bottom'"}],
       "mark": {"type": "point", "filled": true, "opacity": 1, "size": 110, "strokeWidth": 1},
       "encoding": {
         "fill": {"field": "series", "type": "nominal",
           "scale": {"domain": ["ARIES messages", "ISURUS messages", "Aries", "Isurus"], "range": ["#ccffff", "#ffff00", "#333300", "#99cc00"]},
           "legend": {"orient": "none", "legendX": -110, "legendY": 688, "direction": "horizontal", "title": null, "columnPadding": 13, "labelOffset": 14, "padding": 0, "symbolSize": 110, "labelFontSize": 18}},
         "shape": {"field": "series", "type": "nominal",
           "scale": {"domain": ["ARIES messages", "ISURUS messages", "Aries", "Isurus"], "range": ["diamond", "diamond", "M-3.8,-0.25L3.8,-0.25L3.8,0.25L-3.8,0.25Z", "M-3.8,-0.25L3.8,-0.25L3.8,0.25L-3.8,0.25Z"]},
           "legend": {"orient": "none", "legendX": -110, "legendY": 688, "direction": "horizontal", "title": null, "columnPadding": 13, "labelOffset": 14, "padding": 0, "symbolSize": 110, "labelFontSize": 18}},
         "stroke": {"field": "series", "type": "nominal",
           "scale": {"domain": ["ARIES messages", "ISURUS messages", "Aries", "Isurus"], "range": ["black", "black", "#333300", "#99cc00"]},
           "legend": {"orient": "none", "legendX": -110, "legendY": 688, "direction": "horizontal", "title": null, "columnPadding": 13, "labelOffset": 14, "padding": 0, "symbolSize": 110, "labelFontSize": 18}}
       }},
      {"data": {"name": "labels"}, "transform": [{"filter": "datum.panel === 'bottom' && datum.kind === 'N'"}],
       "mark": {"type": "text", "font": "Liberation Serif", "fontSize": 20, "color": "black", "align": "center", "baseline": "middle"},
       "encoding": {"text": {"field": "text"}}},
      {"data": {"name": "labels"}, "transform": [{"filter": "datum.panel === 'bottom' && datum.kind === 'link7'"}],
       "mark": {"type": "text", "font": "Liberation Serif", "fontSize": 15, "color": "black", "align": "center", "baseline": "middle"},
       "encoding": {"text": {"field": "text"}}}
    ]
  }
]
}
